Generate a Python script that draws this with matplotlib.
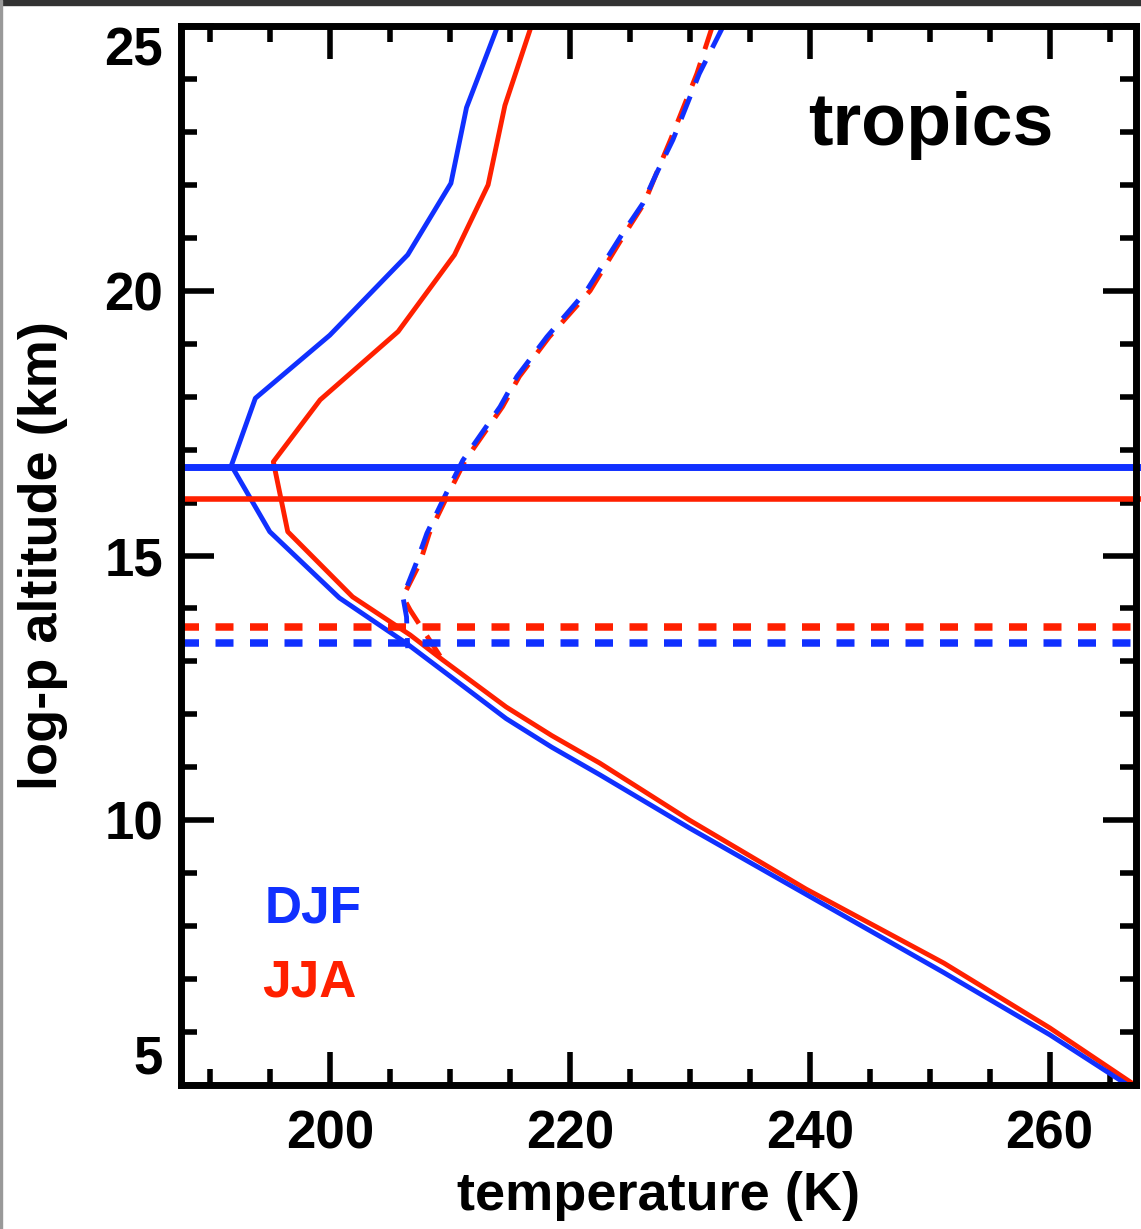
import matplotlib.pyplot as plt
from matplotlib.patches import Rectangle

plt.rcParams['font.family'] = ['Liberation Sans', 'DejaVu Sans']
plt.rcParams['font.weight'] = 'bold'
plt.rcParams['axes.labelweight'] = 'bold'

BLUE = '#1030ff'
RED = '#ff2000'

# DJF temperature profile (solid)
djf_temp = [266.5, 260.0, 251.2, 239.7, 230.0, 222.5, 218.5, 214.7, 210.5,
            206.4, 200.8, 195.0, 191.8, 193.8, 200.0, 206.5, 210.1, 211.4, 214.0]
djf_alt = [5.0, 5.95, 7.12, 8.6, 9.85, 10.86, 11.38, 11.92, 12.64,
           13.34, 14.2, 15.45, 16.7, 17.97, 19.16, 20.68, 22.03, 23.46, 25.0]

# JJA temperature profile (solid)
jja_temp = [267.1, 260.0, 251.2, 239.7, 230.0, 222.5, 218.5, 214.7, 209.4,
            206.7, 201.9, 196.5, 195.3, 199.2, 205.7, 210.4, 213.2, 214.6, 216.8]
jja_alt = [5.0, 6.08, 7.3, 8.7, 10.0, 11.08, 11.6, 12.14, 13.03,
           13.5, 14.22, 15.45, 16.77, 17.94, 19.23, 20.68, 22.0, 23.5, 25.0]

# second profile (dashed), listed from the top down to where it meets the solid one
djf_dash_temp = [232.8, 230.8, 228.6, 227.2, 226.1, 224.4, 221.4, 218.1, 215.6,
                 214.2, 211.1, 209.7, 208.1, 207.2, 206.1, 206.4, 206.5]
djf_dash_alt = [25.0, 24.1, 22.85, 22.2, 21.65, 21.08, 20.0, 19.13, 18.38,
                17.81, 16.8, 16.17, 15.42, 14.85, 14.22, 13.84, 13.25]

jja_dash_temp = [231.9, 230.6, 228.4, 227.2, 226.2, 224.6, 221.7, 218.3, 215.8,
                 214.4, 211.3, 209.9, 208.3, 207.5, 206.1, 206.7, 207.9, 209.4]
jja_dash_alt = [25.0, 24.1, 22.85, 22.2, 21.65, 21.08, 20.0, 19.13, 18.38,
                17.81, 16.8, 16.17, 15.42, 14.85, 14.22, 13.97, 13.55, 13.03]

# tropopause heights (km)
djf_trop = 16.68
jja_trop = 16.07
djf_trop_dash = 13.35
jja_trop_dash = 13.65

x_ticks = [200, 220, 240, 260]
y_ticks = [5, 10, 15, 20, 25]
seasons = ['DJF', 'JJA']

fig = plt.figure(figsize=(11.41, 12.29), dpi=100)
ax = fig.add_axes([0.1586, 0.1172, 0.837, 0.8616])

ax.plot(jja_dash_temp, jja_dash_alt, color=RED, lw=3.5, dashes=(5, 3))
ax.plot(djf_dash_temp, djf_dash_alt, color=BLUE, lw=3.5, dashes=(5, 3))
ax.plot(jja_temp, jja_alt, color=RED, lw=3.5)
ax.plot(djf_temp, djf_alt, color=BLUE, lw=3.5)

ax.axhline(jja_trop, xmax=1.01, color=RED, lw=4, clip_on=False)
ax.axhline(djf_trop, xmax=1.01, color=BLUE, lw=5, clip_on=False)
ax.axhline(jja_trop_dash, xmax=1.01, color=RED, lw=5.4, dashes=(2.4, 2.2),
           dash_capstyle='butt', clip_on=False)
ax.axhline(djf_trop_dash, xmax=1.01, color=BLUE, lw=5.4, dashes=(2.4, 2.2),
           dash_capstyle='butt', clip_on=False)

ax.set_xlim(187.6, 267.2)
ax.set_ylim(5, 25)
ax.set_xticks(x_ticks)
ax.set_xticks(range(190, 268, 5), minor=True)
ax.set_yticks(y_ticks)
ax.set_yticks(range(5, 26), minor=True)

ax.tick_params(which='both', direction='in', top=True, right=True, width=4)
ax.tick_params(which='major', length=24, labelsize=38)
ax.tick_params(which='minor', length=11.5)
ax.tick_params(axis='x', pad=18)
ax.tick_params(axis='y', pad=13)
for s in ax.spines.values():
    s.set_linewidth(5)

ylabels = ax.get_yticklabels()
ylabels[0].set_va('bottom')
ylabels[-1].set_va('top')

ax.set_xlabel('temperature (K)', fontsize=39, fontweight='bold', labelpad=8)
ax.set_ylabel('log-p altitude (km)', fontsize=39, fontweight='bold', labelpad=26)

ax.text(0.6565, 0.8876, 'tropics', transform=ax.transAxes, fontsize=53,
        fontweight='bold', ha='left', va='baseline')
ax.text(0.088, 0.153, seasons[0], transform=ax.transAxes, fontsize=37,
        fontweight='bold', color=BLUE, ha='left', va='baseline')
ax.text(0.0848, 0.0831, seasons[1], transform=ax.transAxes, fontsize=37,
        fontweight='bold', color=RED, ha='left', va='baseline')

# screenshot frame
fig.patches.append(Rectangle((0, 1 - 5 / 1229), 1, 5 / 1229, color='#333333',
                             transform=fig.transFigure, zorder=10))
fig.patches.append(Rectangle((0, 0), 1.5 / 1141, 1, color='#999999',
                             transform=fig.transFigure, zorder=10))

fig.savefig('out.png', dpi=100)
